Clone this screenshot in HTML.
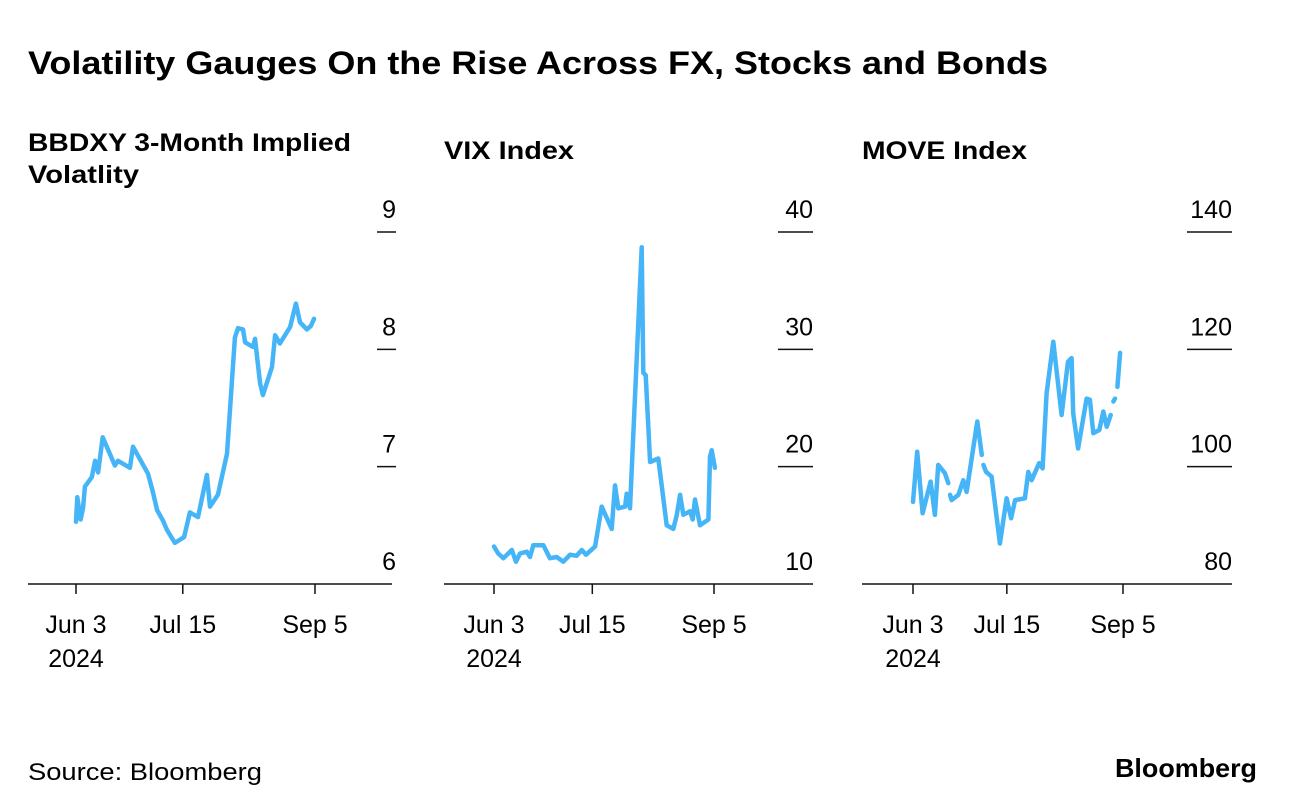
<!DOCTYPE html>
<html><head><meta charset="utf-8"><style>
html,body{margin:0;padding:0;background:#fff;}
svg{display:block;font-family:"Liberation Sans",Arial,sans-serif;}
</style></head><body>
<svg id="chart" width="1296" height="812" viewBox="0 0 1296 812">
<text x="28" y="74" font-size="32" font-weight="bold" fill="#000" textLength="1020" lengthAdjust="spacingAndGlyphs">Volatility Gauges On the Rise Across FX, Stocks and Bonds</text>
<text x="28" y="151" font-size="25" font-weight="bold" fill="#000" textLength="323" lengthAdjust="spacingAndGlyphs">BBDXY 3-Month Implied</text>
<text x="28" y="183" font-size="25" font-weight="bold" fill="#000" textLength="111" lengthAdjust="spacingAndGlyphs">Volatlity</text>
<text x="444" y="159" font-size="25" font-weight="bold" fill="#000" textLength="130" lengthAdjust="spacingAndGlyphs">VIX Index</text>
<text x="862" y="159" font-size="25" font-weight="bold" fill="#000" textLength="165" lengthAdjust="spacingAndGlyphs">MOVE Index</text>
<text x="28" y="780" font-size="24" fill="#000" textLength="234" lengthAdjust="spacingAndGlyphs">Source: Bloomberg</text>
<text x="1115" y="777" font-size="26" font-weight="bold" fill="#000" textLength="142" lengthAdjust="spacingAndGlyphs">Bloomberg</text>
<g id="plots"></g>
</svg>
<script>
// Panel 1: BBDXY
const bbDays = [0,0.5,1.8,2.8,3.5,6.2,7.5,8.7,10.5,15.3,16.5,21.2,22.4,28.3,30.3,31.9,34.2,35.8,38.9,42.5,44.8,48,51.5,52.7,55.8,59.4,62.5,63.7,65.7,66.5,69.6,70.4,72.4,73.5,77.1,78.3,80.2,84.2,86.5,88.1,90.8,92.4,93.6];
const bbVals = [6.53,6.74,6.55,6.65,6.83,6.91,7.05,6.95,7.25,7.01,7.05,6.99,7.17,6.94,6.78,6.63,6.54,6.46,6.35,6.40,6.61,6.57,6.93,6.66,6.76,7.11,8.10,8.18,8.17,8.06,8.02,8.09,7.71,7.61,7.85,8.12,8.05,8.19,8.39,8.23,8.17,8.20,8.26];
const bbTicks = [6,7,8,9];
// Panel 2: VIX
const vixDays = [0,1.8,4.0,7.6,9.4,11.1,14.0,15.4,16.8,21.1,23.9,26.8,29.6,32.5,35.3,37.5,39.3,43.2,46.0,50.3,51.7,53.1,56.0,56.7,58.1,63.1,63.8,64.8,66.7,70.2,73.8,76.6,78.1,79.5,80.9,83.8,84.9,85.9,88.0,91.6,92.3,93.0,94.4];
const vixVals = [13.2,12.6,12.2,12.9,11.9,12.6,12.75,12.3,13.3,13.3,12.2,12.3,11.9,12.5,12.4,12.9,12.5,13.2,16.6,14.7,18.4,16.45,16.6,17.7,16.45,38.7,28.0,27.8,20.4,20.7,15.0,14.7,15.9,17.6,15.9,16.2,15.5,17.2,15.0,15.5,20.85,21.4,19.9];
const vixTicks = [10,20,30,40];
// Panel 3: MOVE (null = gap)
const moveDays = [0,1.9,4.3,7.9,9.8,11.3,14.3,15.8,16.2,16.6,17.3,20.3,22.5,24.0,28.8,30.8,31.2,31.5,32.7,35.2,38.9,41.9,43.9,45.7,50.1,51.6,53.1,56.5,58.0,59.8,62.8,66.5,69.4,71.0,71.7,73.9,77.7,79.2,80.7,83.4,85.2,86.7,88.5,89.1,89.7,90.4,91.0,91.5,92.7];
const moveVals = [94.0,102.55,92.05,97.45,91.8,100.3,98.9,97.2,null,95.2,94.3,95.2,97.7,95.7,107.7,102.0,null,100.3,99.1,98.3,86.9,94.6,91.2,94.3,94.6,99.1,97.7,100.6,99.7,112.5,121.3,108.8,117.9,118.5,109.1,103.1,111.6,111.4,105.7,106.25,109.4,106.8,108.8,null,111.1,111.6,null,113.6,119.4];
const moveTicks = [80,100,120,140];
const xTickDays = [0,42,94];
const xTickLabels = ["Jun 3","Jul 15","Sep 5"];

const NS="http://www.w3.org/2000/svg";
const root=document.getElementById('plots');
function mk(tag,attrs,parent){const e=document.createElementNS(NS,tag);for(const k in attrs)e.setAttribute(k,attrs[k]);(parent||root).appendChild(e);return e;}

const panels=[
 {key:'bbdxy',x0:28,x1:392,gx1:377,gx2:396,d0x:76,d1x:315,ymin:6,ymax:9,days:bbDays,vals:bbVals,ticks:bbTicks},
 {key:'vix',x0:444,x1:813,gx1:778,gx2:813,d0x:494,d1x:714,ymin:10,ymax:40,days:vixDays,vals:vixVals,ticks:vixTicks},
 {key:'move',x0:862,x1:1232,gx1:1187,gx2:1232,d0x:913,d1x:1123,ymin:80,ymax:140,days:moveDays,vals:moveVals,ticks:moveTicks}
];
const Y0=584,Y1=232;
panels.forEach(p=>{
  const g=mk('g',{});
  
  
  const xs=d=>p.d0x+(d/94)*(p.d1x-p.d0x);
  const ys=v=>Y0-(v-p.ymin)/(p.ymax-p.ymin)*(Y0-Y1);
  p.ticks.forEach((t,i)=>{
    const y=ys(t);
    if(i>0){
      const l=mk('line',{x1:p.gx1,x2:p.gx2,y1:y,y2:y,stroke:'#111','stroke-width':1.5},g);
      
      
    }
    const tx=mk('text',{x:p.gx2,y:y-14,'font-size':25,'text-anchor':'end',fill:'#000'},g);
    tx.textContent=t;
    
    
  });
  const ax=mk('line',{x1:p.x0,x2:p.x1,y1:Y0,y2:Y0,stroke:'#111','stroke-width':1.5},g);
  
  
  xTickDays.forEach((d,i)=>{
    const x=xs(d);
    const tk=mk('line',{x1:x,x2:x,y1:Y0,y2:Y0+10,stroke:'#111','stroke-width':1.5},g);
    
    
    const t=mk('text',{x:x,y:633,'font-size':25,'text-anchor':'middle',fill:'#000'},g);
    t.textContent=xTickLabels[i];
    
    
    if(i===0){
      const t2=mk('text',{x:x,y:667,'font-size':25,'text-anchor':'middle',fill:'#000'},g);
      t2.textContent='2024';
      
      
    }
  });
  let d='',pen=false;
  p.vals.forEach((v,i)=>{
    if(v===null){pen=false;return;}
    d+=(pen?'L':'M')+xs(p.days[i]).toFixed(1)+','+ys(v).toFixed(1);
    pen=true;
  });
  const path=mk('path',{d:d,fill:'none',stroke:'#46b5f7','stroke-width':4.5,'stroke-linejoin':'round','stroke-linecap':'round'},g);
  
  
});
</script>
</body></html>
